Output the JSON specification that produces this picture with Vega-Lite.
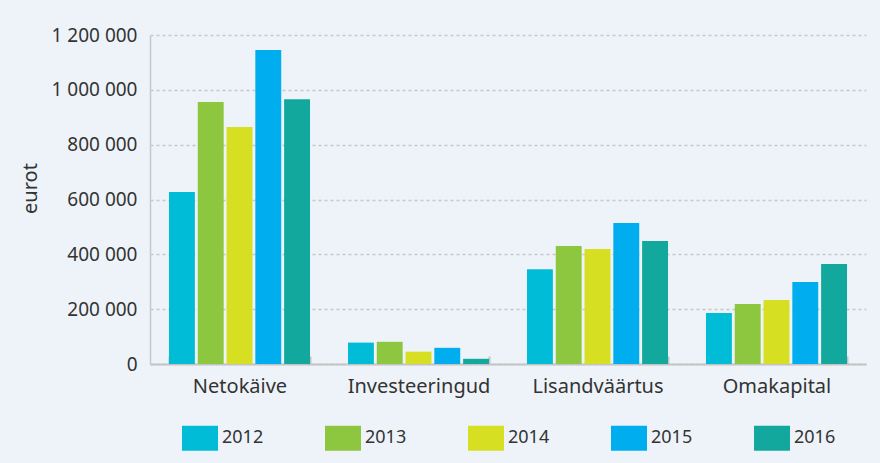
{
  "$schema": "https://vega.github.io/schema/vega-lite/v6.json",
  "autosize": {"type": "none"},
  "width": 716,
  "height": 329,
  "padding": {"left": 150, "top": 35, "right": 14, "bottom": 99},
  "background": "#EEF3FA",
  "config": {
    "view": {"stroke": null},
    "locale": {"number": {"decimal": ",", "thousands": " ", "grouping": [3], "currency": ["", " €"]}},
    "font": "Noto Sans"
  },
  "data": {
    "values": [
      {"naitaja": "Netokäive", "aasta": "2012", "eurot": 627000},
      {"naitaja": "Netokäive", "aasta": "2013", "eurot": 956000},
      {"naitaja": "Netokäive", "aasta": "2014", "eurot": 864000},
      {"naitaja": "Netokäive", "aasta": "2015", "eurot": 1145000},
      {"naitaja": "Netokäive", "aasta": "2016", "eurot": 966000},
      {"naitaja": "Investeeringud", "aasta": "2012", "eurot": 78000},
      {"naitaja": "Investeeringud", "aasta": "2013", "eurot": 81000},
      {"naitaja": "Investeeringud", "aasta": "2014", "eurot": 45000},
      {"naitaja": "Investeeringud", "aasta": "2015", "eurot": 59000},
      {"naitaja": "Investeeringud", "aasta": "2016", "eurot": 19000},
      {"naitaja": "Lisandväärtus", "aasta": "2012", "eurot": 346000},
      {"naitaja": "Lisandväärtus", "aasta": "2013", "eurot": 430000},
      {"naitaja": "Lisandväärtus", "aasta": "2014", "eurot": 419000},
      {"naitaja": "Lisandväärtus", "aasta": "2015", "eurot": 514000},
      {"naitaja": "Lisandväärtus", "aasta": "2016", "eurot": 449000},
      {"naitaja": "Omakapital", "aasta": "2012", "eurot": 186000},
      {"naitaja": "Omakapital", "aasta": "2013", "eurot": 219000},
      {"naitaja": "Omakapital", "aasta": "2014", "eurot": 233000},
      {"naitaja": "Omakapital", "aasta": "2015", "eurot": 299000},
      {"naitaja": "Omakapital", "aasta": "2016", "eurot": 365000}
    ]
  },
  "mark": {"type": "bar"},
  "encoding": {
    "x": {
      "field": "naitaja",
      "type": "nominal",
      "sort": ["Netokäive", "Investeeringud", "Lisandväärtus", "Omakapital"],
      "scale": {"paddingInner": 0.212, "paddingOuter": 0.106},
      "axis": {
        "title": null,
        "labelAngle": 0,
        "labelFontSize": 20,
        "labelColor": "#333333",
        "labelPadding": 20,
        "tickBand": "extent",
        "tickSize": -8,
        "tickColor": "#C4C4C4",
        "tickWidth": 2,
        "domainColor": "#C4C4C4",
        "domainWidth": 2,
        "grid": false
      }
    },
    "xOffset": {
      "field": "aasta",
      "type": "nominal",
      "scale": {"paddingInner": 0.1, "paddingOuter": 0}
    },
    "y": {
      "field": "eurot",
      "type": "quantitative",
      "scale": {"domain": [0, 1200000], "nice": false},
      "axis": {
        "title": "eurot",
        "titleFontSize": 20,
        "titleFontWeight": "normal",
        "titleColor": "#333333",
        "titleX": -120,
        "titleY": 153,
        "titleBaseline": "middle",
        "values": [0, 200000, 400000, 600000, 800000, 1000000, 1200000],
        "format": ",d",
        "labelFontSize": 19,
        "labelColor": "#333333",
        "labelPadding": 13,
        "ticks": false,
        "domainColor": "#C8C8C8",
        "domainWidth": 1.5,
        "gridColor": "#C8C8C8",
        "gridWidth": 1.5,
        "gridDash": [3, 3]
      }
    },
    "color": {
      "field": "aasta",
      "type": "nominal",
      "scale": {
        "domain": ["2012", "2013", "2014", "2015", "2016"],
        "range": ["#00BCD6", "#8DC63F", "#D6DF21", "#00AEEF", "#12A89D"]
      },
      "legend": {
        "title": null,
        "orient": "none",
        "legendX": 32,
        "legendY": 385,
        "direction": "horizontal",
        "columns": 5,
        "columnPadding": 61,
        "symbolType": "M-1,-0.69L1,-0.69L1,0.69L-1,0.69Z",
        "symbolSize": 1296,
        "symbolStrokeWidth": 0,
        "symbolOpacity": 1,
        "labelFont": "Noto Sans",
        "labelFontSize": 18,
        "labelColor": "#333333",
        "labelOffset": 4
      }
    }
  }
}
